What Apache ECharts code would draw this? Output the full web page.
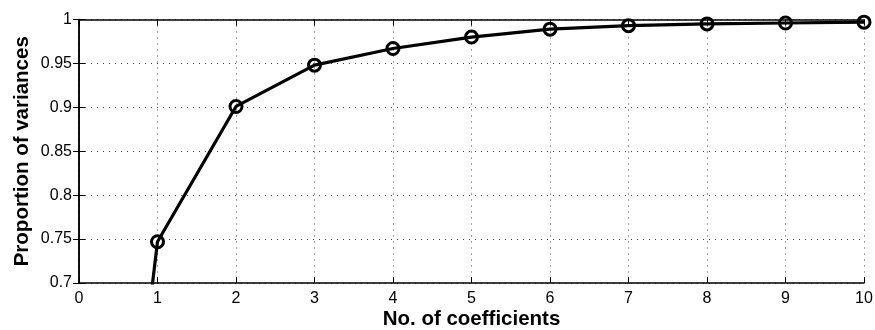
<!DOCTYPE html>
<html>
<head>
<meta charset="utf-8">
<script src="https://cdn.jsdelivr.net/npm/echarts@6/dist/echarts.min.js"></script>
<style>
  html, body { margin: 0; padding: 0; background: #fff; }
  #chart { width: 875px; height: 330px; }
</style>
</head>
<body>
<div id="chart"></div>
<script>
// number of coefficients and cumulative proportion of variance
var coefficients = [0, 1, 2, 3, 4, 5, 6, 7, 8, 9, 10]
var proportions = [0, 0.747, 0.901, 0.948, 0.967, 0.980, 0.989, 0.993, 0.995, 0.996, 0.997]

var font = 'Liberation Sans, Arial, Helvetica, sans-serif'

var points = coefficients.map(function (c, i) { return [c, proportions[i]] })

var chart = echarts.init(document.getElementById('chart'))

var gridDots = {
  show: true,
  lineStyle: { color: '#444', type: [1, 5], width: 1 }
}

chart.setOption({
  animation: false,
  grid: { left: 79, right: 11, top: 19.5, bottom: 47, containLabel: false, outerBoundsMode: 'none' },
  xAxis: [
    {
      type: 'value',
      min: 0,
      max: 10,
      interval: 1,
      name: 'No. of coefficients',
      nameLocation: 'middle',
      nameGap: 26,
      nameMoveOverlap: false,
      nameTextStyle: { fontFamily: font, fontWeight: 'bold', fontSize: 20.5, color: '#000' },
      axisLine: { lineStyle: { color: '#000', width: 1.5 } },
      axisTick: { inside: true, length: 6, lineStyle: { color: '#000' } },
      axisLabel: { fontFamily: font, fontSize: 16, color: '#000', margin: 8 },
      splitLine: gridDots
    },
    {
      type: 'value',
      position: 'top',
      min: 0,
      max: 10,
      interval: 1,
      axisLine: { lineStyle: { color: '#000', width: 1.5 } },
      axisTick: { inside: true, length: 6, lineStyle: { color: '#000' } },
      axisLabel: { show: false },
      splitLine: { show: false }
    }
  ],
  yAxis: [
    {
      type: 'value',
      min: 0.7,
      max: 1,
      interval: 0.05,
      name: 'Proportion of variances',
      nameLocation: 'middle',
      nameGap: 46,
      nameMoveOverlap: false,
      nameTextStyle: { fontFamily: font, fontWeight: 'bold', fontSize: 20.5, color: '#000' },
      axisLine: { show: true, lineStyle: { color: '#000', width: 1.5 } },
      axisTick: { show: true, inside: true, length: 6, lineStyle: { color: '#000' } },
      axisLabel: { fontFamily: font, fontSize: 16, color: '#000', margin: 7 },
      splitLine: gridDots
    },
    {
      type: 'value',
      position: 'right',
      min: 0.7,
      max: 1,
      interval: 0.05,
      axisLine: { show: true, lineStyle: { color: '#000', width: 1.5 } },
      axisTick: { show: true, inside: true, length: 6, lineStyle: { color: '#000' } },
      axisLabel: { show: false },
      splitLine: { show: false }
    }
  ],
  series: [
    {
      type: 'line',
      data: points,
      clip: true,
      symbol: 'circle',
      symbolSize: 12,
      showAllSymbol: true,
      lineStyle: { color: '#000', width: 3.2 },
      itemStyle: { color: 'rgba(255,255,255,0)', borderColor: '#000', borderWidth: 3 }
    }
  ]
})
</script>
</body>
</html>
